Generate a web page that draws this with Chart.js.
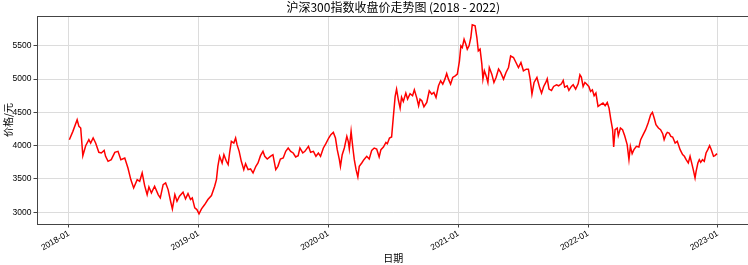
<!DOCTYPE html>
<html>
<head>
<meta charset="utf-8">
<script src="https://cdn.jsdelivr.net/npm/chart.js@4"></script>
<style>
  html, body { margin: 0; padding: 0; overflow: hidden; background: #fff; }
  #wrap { width: 750px; height: 265px; }
</style>
</head>
<body>
<div id="wrap"><canvas id="chart" width="750" height="265"></canvas></div>
<script>
// closing prices, [month-day, price] per year
const y2018 = [
  ['01-02', 4090], ['01-12', 4215], ['01-24', 4390], ['01-29', 4290], ['02-03', 4265],
  ['02-09', 3850], ['02-17', 4000], ['02-26', 4090], ['03-03', 4040], ['03-10', 4115],
  ['03-17', 4040], ['03-26', 3900], ['04-02', 3890], ['04-10', 3930], ['04-14', 3840],
  ['04-21', 3765], ['04-30', 3790], ['05-10', 3900], ['05-19', 3915], ['05-27', 3790],
  ['06-07', 3815], ['06-16', 3665], ['06-24', 3490], ['07-02', 3365], ['07-12', 3490],
  ['07-19', 3465], ['07-26', 3590], ['08-02', 3400], ['08-09', 3265], ['08-14', 3380],
  ['08-21', 3290], ['08-30', 3390], ['09-09', 3265], ['09-15', 3215], ['09-23', 3415],
  ['09-30', 3440], ['10-07', 3340], ['10-14', 3165], ['10-19', 3050], ['10-26', 3265],
  ['11-01', 3165], ['11-08', 3240], ['11-18', 3300], ['11-25', 3200], ['12-02', 3280],
  ['12-09', 3190], ['12-14', 3215], ['12-21', 3065], ['12-27', 3040],
]
const y2019 = [
  ['01-02', 2975], ['01-09', 3050], ['01-18', 3115], ['01-27', 3190], ['02-06', 3250],
  ['02-15', 3390], ['02-20', 3490], ['02-24', 3690], ['03-01', 3840], ['03-08', 3740],
  ['03-13', 3865], ['03-20', 3765], ['03-25', 3715], ['03-29', 3890], ['04-03', 4065],
  ['04-10', 4040], ['04-15', 4115], ['04-19', 4015], ['04-25', 3915], ['05-01', 3765],
  ['05-08', 3640], ['05-13', 3730], ['05-20', 3640], ['05-27', 3650], ['06-03', 3590],
  ['06-11', 3690], ['06-17', 3740], ['06-24', 3850], ['07-01', 3915], ['07-06', 3840],
  ['07-13', 3800], ['07-22', 3840], ['07-29', 3865], ['08-06', 3640], ['08-12', 3690],
  ['08-19', 3800], ['08-27', 3815], ['09-03', 3915], ['09-10', 3965], ['09-17', 3915],
  ['09-24', 3890], ['10-01', 3830], ['10-08', 3850], ['10-13', 3965], ['10-21', 3890],
  ['10-27', 3915], ['11-06', 3990], ['11-12', 3900], ['11-20', 3915], ['11-27', 3840],
  ['12-04', 3890], ['12-10', 3840], ['12-18', 3965], ['12-25', 4030],
]
const y2020 = [
  ['01-02', 4115], ['01-08', 4165], ['01-15', 4200], ['01-21', 4115], ['01-26', 3940],
  ['02-01', 3790], ['02-04', 3690], ['02-09', 3865], ['02-15', 3965], ['02-22', 4140],
  ['02-26', 4065], ['02-29', 3950], ['03-05', 4215], ['03-10', 3965], ['03-14', 3790],
  ['03-19', 3640], ['03-24', 3530], ['03-28', 3690], ['04-04', 3740], ['04-10', 3790],
  ['04-18', 3840], ['04-25', 3800], ['05-02', 3930], ['05-09', 3965], ['05-16', 3950],
  ['05-23', 3830], ['05-28', 3940], ['06-04', 3980], ['06-11', 4050], ['06-15', 4030],
  ['06-21', 4115], ['06-27', 4130], ['07-02', 4440], ['07-07', 4740], ['07-11', 4850],
  ['07-16', 4690], ['07-21', 4565], ['07-25', 4730], ['07-30', 4665], ['08-06', 4790],
  ['08-11', 4700], ['08-18', 4780], ['08-25', 4750], ['08-30', 4840], ['09-06', 4715],
  ['09-11', 4600], ['09-15', 4700], ['09-20', 4675], ['09-26', 4585], ['10-04', 4650],
  ['10-11', 4825], ['10-18', 4775], ['10-24', 4800], ['10-30', 4725], ['11-06', 4900],
  ['11-12', 4975], ['11-18', 4925], ['11-24', 5000], ['11-29', 5085], ['12-04', 5000],
  ['12-10', 4925], ['12-16', 5025], ['12-23', 5050], ['12-29', 5075],
]
const y2021 = [
  ['01-04', 5275], ['01-08', 5500], ['01-12', 5475], ['01-17', 5600], ['01-22', 5525],
  ['01-26', 5450], ['01-31', 5500], ['02-05', 5625], ['02-09', 5815], ['02-17', 5800],
  ['02-22', 5625], ['02-26', 5425], ['03-03', 5450], ['03-08', 5225], ['03-11', 5000],
  ['03-15', 5125], ['03-20', 5050], ['03-25', 4950], ['03-29', 5175], ['04-05', 5075],
  ['04-11', 4950], ['04-17', 5025], ['04-24', 5150], ['04-30', 5100], ['05-08', 5000],
  ['05-15', 5100], ['05-22', 5175], ['05-28', 5350], ['06-05', 5325], ['06-12', 5250],
  ['06-19', 5175], ['06-26', 5250], ['07-03', 5125], ['07-11', 5150], ['07-17', 5150],
  ['07-22', 5000], ['07-27', 4775], ['08-02', 4950], ['08-10', 5025], ['08-18', 4865],
  ['08-23', 4790], ['08-29', 4890], ['09-04', 4950], ['09-08', 5005], ['09-13', 4850],
  ['09-20', 4830], ['09-26', 4890], ['10-04', 4915], ['10-10', 4900], ['10-18', 4930],
  ['10-23', 4980], ['10-27', 4880], ['11-03', 4900], ['11-08', 4830], ['11-15', 4890],
  ['11-20', 4915], ['11-27', 4850], ['12-04', 4930], ['12-09', 5065], ['12-13', 5030],
  ['12-18', 4890], ['12-23', 4950], ['12-27', 4930],
]
const y2022 = [
  ['01-03', 4890], ['01-08', 4815], ['01-13', 4840], ['01-18', 4750], ['01-23', 4790],
  ['01-29', 4590], ['02-05', 4615], ['02-12', 4640], ['02-18', 4600], ['02-24', 4650],
  ['03-01', 4565], ['03-06', 4390], ['03-11', 4240], ['03-14', 3980], ['03-18', 4240],
  ['03-24', 4265], ['03-27', 4150], ['04-02', 4265], ['04-08', 4240], ['04-14', 4150],
  ['04-21', 4015], ['04-26', 3790], ['04-30', 3990], ['05-05', 3880], ['05-10', 3940],
  ['05-17', 3990], ['05-24', 3980], ['05-29', 4090], ['06-05', 4165], ['06-12', 4240],
  ['06-19', 4340], ['06-26', 4465], ['07-01', 4500], ['07-06', 4415], ['07-11', 4315],
  ['07-18', 4265], ['07-24', 4240], ['07-30', 4180], ['08-03', 4090], ['08-08', 4165],
  ['08-12', 4200], ['08-17', 4190], ['08-22', 4140], ['08-27', 4130], ['09-03', 4040],
  ['09-09', 4065], ['09-17', 3940], ['09-24', 3865], ['09-29', 3840], ['10-04', 3790],
  ['10-10', 3740], ['10-15', 3840], ['10-20', 3730], ['10-24', 3640], ['10-29', 3515],
  ['11-01', 3615], ['11-06', 3740], ['11-10', 3790], ['11-14', 3750], ['11-19', 3790],
  ['11-24', 3765], ['11-29', 3890], ['12-04', 3940], ['12-09', 4000], ['12-13', 3950],
  ['12-20', 3840], ['12-24', 3850], ['12-30', 3880],
]

const yearTicks = ['2018-01-01', '2019-01-01', '2020-01-01', '2021-01-01', '2022-01-01', '2023-01-01']
const yearLabels = ['2018-01', '2019-01', '2020-01', '2021-01', '2022-01', '2023-01']
const priceTicks = [3000, 3500, 4000, 4500, 5000, 5500]

const cjk = '"Noto Sans CJK SC", sans-serif'
const num = '"Liberation Sans", Arial, sans-serif'

// x axis is days since 2018-01-01 (no date adapter loaded)
const base = Date.parse('2018-01-01T00:00:00Z')
const dayOf = (s) => (Date.parse(s + 'T00:00:00Z') - base) / 86400000

const points = []
;[[2018, y2018], [2019, y2019], [2020, y2020], [2021, y2021], [2022, y2022]].forEach(([year, rows]) => {
  rows.forEach(([md, v]) => points.push({ x: dayOf(year + '-' + md), y: v }))
})

// all four spines, drawn over the line like matplotlib
const frame = {
  id: 'frame',
  afterDatasetsDraw(chart) {
    const { ctx, chartArea: a } = chart
    ctx.save()
    ctx.strokeStyle = '#444'
    ctx.lineWidth = 1
    ctx.strokeRect(Math.round(a.left) + 0.5, Math.round(a.top) + 0.5,
      Math.round(a.right - a.left), Math.round(a.bottom - a.top))
    ctx.restore()
  },
}

new Chart(document.getElementById('chart'), {
  type: 'line',
  data: {
    datasets: [
      {
        data: points,
        borderColor: '#ff0000',
        borderWidth: 1.5,
        pointRadius: 0,
        tension: 0,
        fill: false,
      },
    ],
  },
  options: {
    responsive: false,
    animation: false,
    devicePixelRatio: 1,
    layout: { padding: { left: 0, right: 0.6, top: 0, bottom: 0 } },
    plugins: {
      legend: { display: false },
      tooltip: { enabled: false },
      title: {
        display: true,
        text: '沪深300指数收盘价走势图 (2018 - 2022)',
        fullSize: false,
        color: '#000',
        font: { family: cjk, size: 12, weight: 'normal' },
        padding: { top: 0, bottom: 1.5 },
      },
    },
    scales: {
      x: {
        type: 'linear',
        min: -90,
        max: 1915,
        afterBuildTicks: (s) => {
          s.ticks = yearTicks.map((d) => ({ value: dayOf(d) }))
        },
        afterFit: (s) => {
          s.height = 41
        },
        ticks: {
          autoSkip: false,
          minRotation: 30,
          maxRotation: 30,
          padding: 1,
          color: '#000',
          font: { family: num, size: 8.5 },
          callback: (v, i) => yearLabels[i],
        },
        grid: { color: '#dcdcdc', lineWidth: 1, tickColor: '#444', tickLength: 3.5 },
        border: { display: false },
        title: {
          display: true,
          text: '日期',
          color: '#000',
          font: { family: cjk, size: 10 },
          padding: { top: 0, bottom: 1 },
        },
      },
      y: {
        min: 2823,
        max: 5950,
        afterBuildTicks: (s) => {
          s.ticks = priceTicks.map((v) => ({ value: v }))
        },
        afterFit: (s) => {
          s.width = 37
        },
        ticks: {
          padding: 2,
          color: '#000',
          font: { family: num, size: 8.5 },
          callback: (v) => String(v),
        },
        grid: { color: '#dcdcdc', lineWidth: 1, tickColor: '#444', tickLength: 3.5 },
        border: { display: false },
        title: {
          display: true,
          text: '价格/元',
          color: '#000',
          font: { family: cjk, size: 10 },
          padding: { top: 2, bottom: 0 },
        },
      },
    },
  },
  plugins: [frame],
})
</script>
</body>
</html>
